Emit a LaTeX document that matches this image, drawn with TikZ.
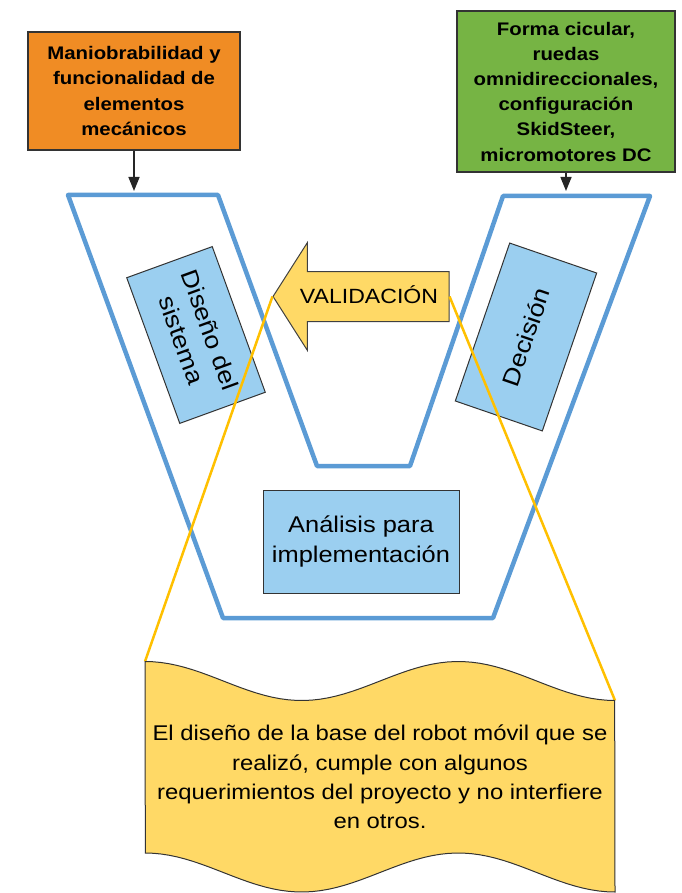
\documentclass[tikz,border=0pt]{standalone}
\usepackage{fontspec}
\setmainfont{Liberation Sans}[FakeStretch=1.12]
\usepackage{xcolor}
\usetikzlibrary{arrows.meta,shapes.arrows}
\definecolor{vorange}{RGB}{240,140,36}
\definecolor{vgreen}{RGB}{118,180,68}
\definecolor{vblue}{RGB}{155,207,240}
\definecolor{vline}{RGB}{91,155,213}
\definecolor{vyellow}{RGB}{255,217,102}
\definecolor{vgold}{RGB}{255,192,0}
\tikzset{
  inputbox/.style={
    rectangle,
    draw=black!80,
    line width=1.5pt,
    align=center,
    inner sep=0pt,
    font=\bfseries\fontsize{18.2}{25.2}\selectfont
  },
  stagebox/.style={
    rectangle,
    draw=black!80,
    line width=1pt,
    fill=vblue,
    align=center,
    inner sep=0pt
  },
  validarrow/.style={
    single arrow,
    shape border rotate=180,
    draw=black!75,
    line width=1pt,
    fill=vyellow,
    minimum height=176pt,
    single arrow head extend=29pt,
    single arrow tip angle=115,
    text height=16pt,
    text depth=2pt,
    inner ysep=15.5pt,
    inner xsep=0pt,
    font=\fontsize{20.6}{24}\selectfont
  },
  inputarrow/.style={
    -{Triangle[length=14pt,width=11pt]},
    line width=1.5pt,
    draw=black!85
  },
  zoomline/.style={
    draw=vgold,
    line width=2.5pt
  }
}

\begin{document}
\begin{tikzpicture}[x=1pt,y=-1pt]
\useasboundingbox (0,0) rectangle (681,893);

% contorno en V
\draw[vline, line width=4.5pt, line join=round]
  (68,195) -- (218,195) -- (317,466) -- (410,466) -- (503,196)
  -- (650,196) -- (493,618) -- (223,618) -- cycle;

\node[inputbox, fill=vorange, minimum width=212pt, minimum height=118pt] (maniobra) at (134,91)
  {Maniobrabilidad y\\funcionalidad de\\elementos\\mecánicos};
\node[inputbox, fill=vgreen, minimum width=218pt, minimum height=161pt] (forma) at (566,91.5)
  {Forma cicular,\\ruedas\\omnidireccionales,\\configuración\\SkidSteer,\\micromotores DC};

\node[stagebox, rotate=-70, minimum width=155pt, minimum height=91pt,
  font=\fontsize{23.8}{30}\selectfont] (diseno) at (196,335) {Diseño del\\sistema};
\node[stagebox, rotate=71, minimum width=167pt, minimum height=92pt,
  font=\fontsize{23.8}{30}\selectfont] (decision) at (526,337) {Decisión};
\node[stagebox, minimum width=196pt, minimum height=103pt,
  font=\fontsize{22.7}{30}\selectfont] (analisis) at (361,541.5) {Análisis para\\implementación};

\node[validarrow] (validacion) at (369,296.5) {VALIDACIÓN};

\coordinate (vtopl) at (134,191);
\coordinate (vtopr) at (566,191);
\draw[inputarrow] (maniobra.south) -- (vtopl);
\draw[inputarrow] (forma.south) -- (vtopr);

% hoja de conclusion
\coordinate (doctl) at (145,661.5);
\coordinate (doctr) at (615,700.5);
\draw[zoomline] (validacion.tip) -- (doctl);
\draw[zoomline] (validacion.tail) -- (doctr);
\draw[draw=black!80, line width=1pt, fill=vyellow]
  plot[domain=0:1, samples=60] ({145+470*\x},{681-19.5*cos(540*\x)})
  -- plot[domain=1:0, samples=60] ({145+470*\x},{872.5-19.5*cos(540*\x)}) -- cycle;
\node[align=center, font=\fontsize{21.3}{29.3}\selectfont] (conclusion) at (380,777)
  {El diseño de la base del robot móvil que se\\realizó, cumple con algunos\\requerimientos del proyecto y no interfiere\\en otros.};
\end{tikzpicture}
\end{document}
